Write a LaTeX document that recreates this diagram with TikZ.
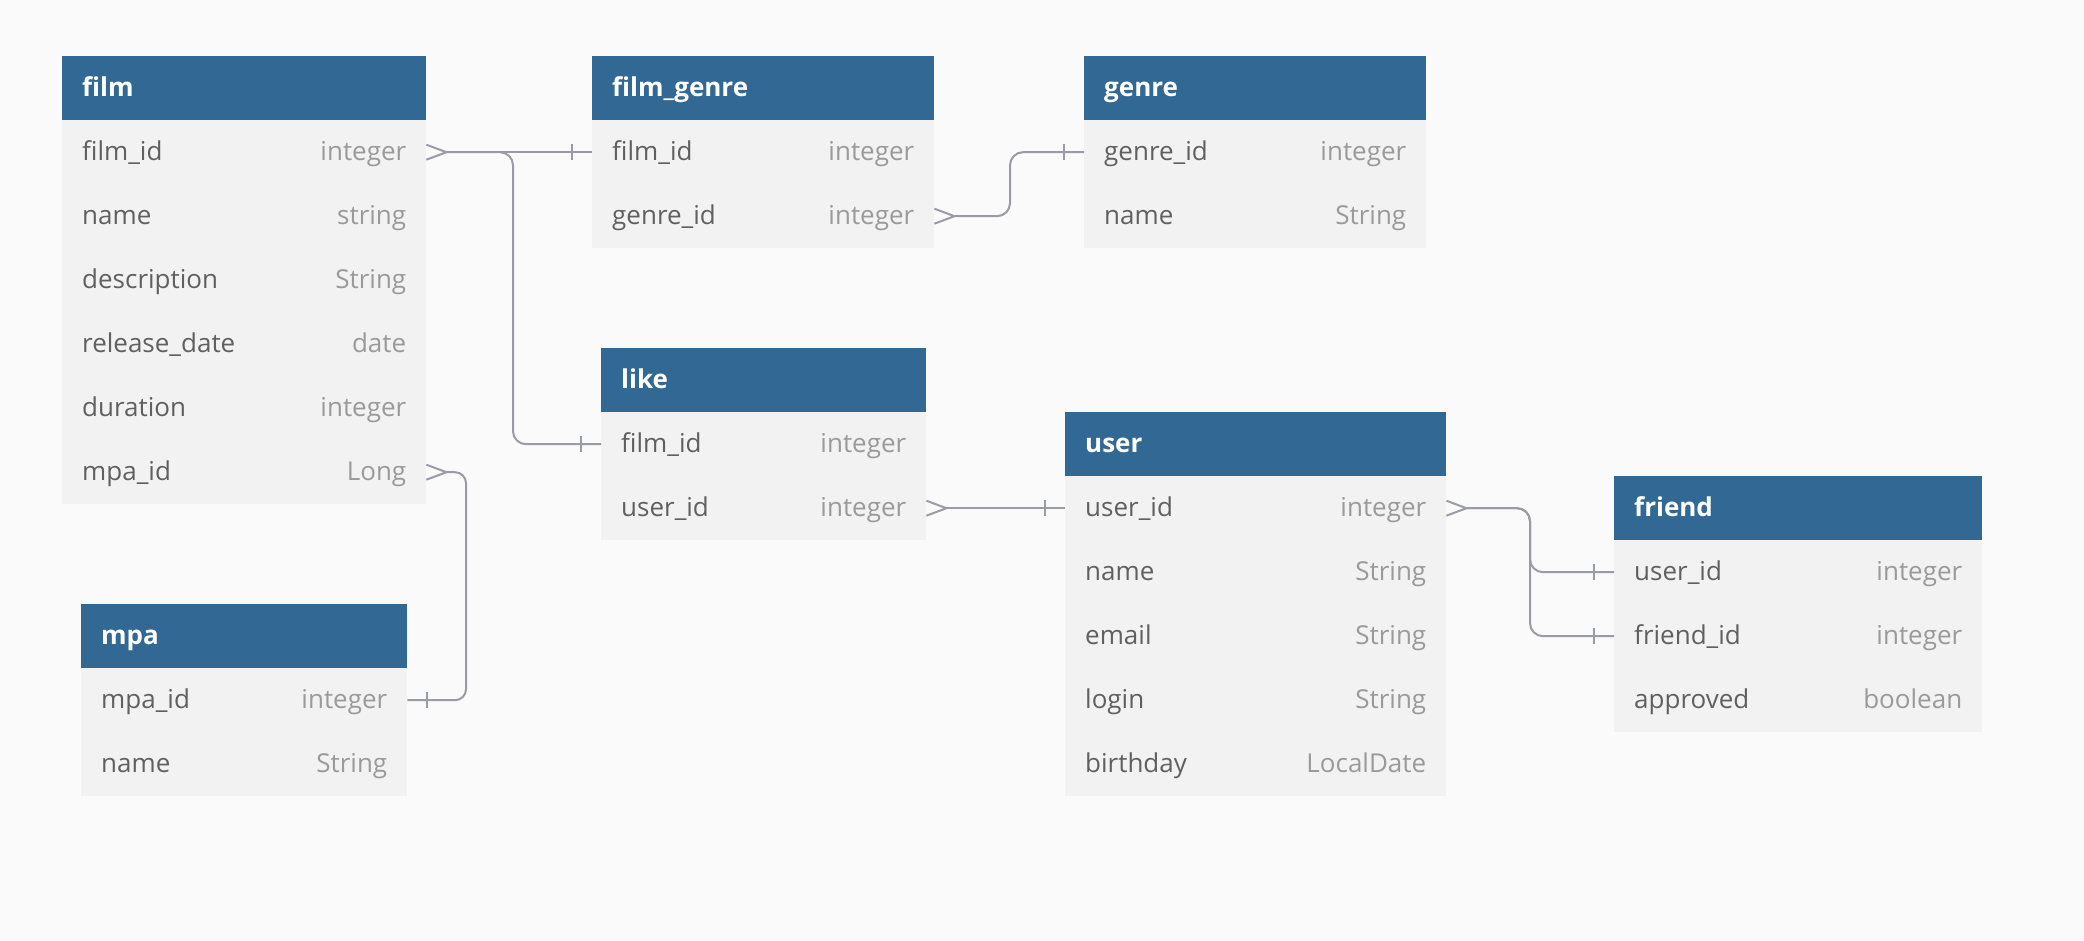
\documentclass[tikz,border=0pt]{standalone}
\usepackage{fontspec}
\setmainfont{Open Sans}
\definecolor{hdrblue}{HTML}{326894}
\definecolor{bodyfill}{HTML}{F2F2F2}
\definecolor{bgfill}{HTML}{FAFAFA}
\definecolor{nametxt}{HTML}{606060}
\definecolor{typetxt}{HTML}{9A9A9A}
\definecolor{connclr}{HTML}{9B9BA6}
\tikzset{
  hdrbox/.style={anchor=north west, fill=hdrblue, draw=none, minimum height=64pt, inner sep=0pt},
  rowbox/.style={anchor=north west, fill=bodyfill, draw=none, minimum height=64pt, inner sep=0pt},
  hdrtext/.style={anchor=base west, inner sep=0pt, text=white, font=\fontsize{26}{31}\selectfont\bfseries},
  nametext/.style={anchor=base west, inner sep=0pt, text=nametxt, font=\fontsize{26}{31}\selectfont},
  typetext/.style={anchor=base east, inner sep=0pt, text=typetxt, font=\fontsize{26}{31}\selectfont},
  conn/.style={draw=connclr, line width=2pt},
}
\newcommand\ertab[6]{%
  \node[hdrbox, minimum width=#4pt] (#1) at (#2,#3) {};
  \node[hdrtext] (#1-title) at ([xshift=20pt,yshift=-8.5pt]#1.west) {#5};
  \foreach \k/\n/\t [count=\i] in {#6} {
    \node[rowbox, minimum width=#4pt] (#1-\k) at (#2,#3+64*\i) {};
    \node[nametext] (#1-\k-n) at ([xshift=20pt,yshift=-8.5pt]#1-\k.west) {\n};
    \node[typetext] (#1-\k-t) at ([xshift=-20pt,yshift=-8.5pt]#1-\k.east) {\t};
  }
}
\newcommand\crowfoot[1]{\draw[conn] ([yshift=7.5pt]#1) -- ([xshift=20pt]#1) -- ([yshift=-7.5pt]#1);}
\newcommand\onebar[2]{\draw[conn] ([xshift=#2pt,yshift=8pt]#1) -- ([xshift=#2pt,yshift=-8pt]#1);}
\begin{document}
\begin{tikzpicture}[x=1pt,y=-1pt]
\fill[bgfill] (0,0) rectangle (2084,940);
\useasboundingbox (0,0) rectangle (2084,940);

\ertab{film}{62}{56}{364}{film}{fid/film\_id/integer, name/name/string, desc/description/String, rel/release\_date/date, dur/duration/integer, mpa/mpa\_id/Long}
\ertab{fg}{592}{56}{342}{film\_genre}{fid/film\_id/integer, gid/genre\_id/integer}
\ertab{genre}{1084}{56}{342}{genre}{gid/genre\_id/integer, name/name/String}
\ertab{like}{601}{348}{325}{like}{fid/film\_id/integer, uid/user\_id/integer}
\ertab{user}{1065}{412}{381}{user}{uid/user\_id/integer, name/name/String, email/email/String, login/login/String, bday/birthday/LocalDate}
\ertab{friend}{1614}{476}{368}{friend}{uid/user\_id/integer, fid/friend\_id/integer, appr/approved/boolean}
\ertab{mpa}{81}{604}{326}{mpa}{mid/mpa\_id/integer, name/name/String}

\coordinate (b1) at (513,0);
\coordinate (b2) at (1010,0);
\coordinate (b3) at (466,0);
\coordinate (b5) at (1530,0);

% film.film_id -> film_genre.film_id and like.film_id
\crowfoot{film-fid.east}
\draw[conn] ([xshift=20pt]film-fid.east) -- (fg-fid.west);
\onebar{fg-fid.west}{-20}
\draw[conn, rounded corners=13pt] ([xshift=20pt]film-fid.east) -| (b1 |- like-fid.west) -- (like-fid.west);
\onebar{like-fid.west}{-20}

% film_genre.genre_id -> genre.genre_id
\crowfoot{fg-gid.east}
\draw[conn, rounded corners=13pt] ([xshift=20pt]fg-gid.east) -| (b2 |- genre-gid.west) -- (genre-gid.west);
\onebar{genre-gid.west}{-20}

% film.mpa_id -> mpa.mpa_id
\crowfoot{film-mpa.east}
\draw[conn, rounded corners=11pt] ([xshift=20pt]film-mpa.east) -| (b3 |- mpa-mid.east) -- (mpa-mid.east);
\onebar{mpa-mid.east}{20}

% like.user_id -> user.user_id
\crowfoot{like-uid.east}
\draw[conn] ([xshift=20pt]like-uid.east) -- (user-uid.west);
\onebar{user-uid.west}{-20}

% user.user_id -> friend.user_id and friend.friend_id
\crowfoot{user-uid.east}
\draw[conn, rounded corners=13pt] ([xshift=20pt]user-uid.east) -| (b5 |- friend-uid.west) -- (friend-uid.west);
\draw[conn, rounded corners=13pt] ([xshift=20pt]user-uid.east) -| (b5 |- friend-fid.west) -- (friend-fid.west);
\onebar{friend-uid.west}{-20}
\onebar{friend-fid.west}{-20}
\end{tikzpicture}
\end{document}
